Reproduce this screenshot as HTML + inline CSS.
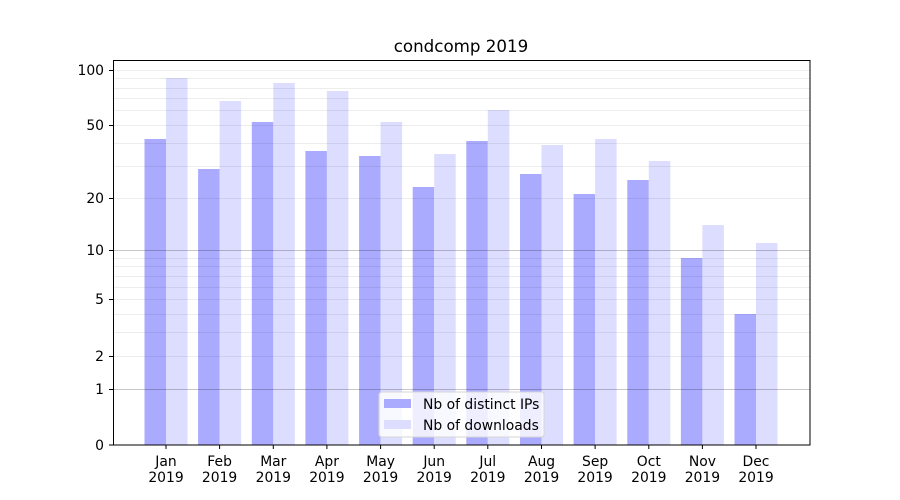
<!DOCTYPE html>
<html><head><style>body{margin:0;background:#fff}svg{display:block}text{font-family:"DejaVu Sans","Liberation Sans",sans-serif;font-size:13.9px;fill:#000}</style></head>
<body>
<svg width="900" height="500" xmlns="http://www.w3.org/2000/svg">
<rect width="900" height="500" fill="#fff"/>
<g fill="#aaaaff">
<rect x="144.5" y="139" width="21.5" height="306"/>
<rect x="198.1" y="169" width="21.5" height="276"/>
<rect x="251.8" y="122" width="21.5" height="323"/>
<rect x="305.4" y="151" width="21.5" height="294"/>
<rect x="359.1" y="156" width="21.5" height="289"/>
<rect x="412.7" y="187" width="21.5" height="258"/>
<rect x="466.3" y="141" width="21.5" height="304"/>
<rect x="520" y="174" width="21.5" height="271"/>
<rect x="573.6" y="194" width="21.5" height="251"/>
<rect x="627.3" y="180" width="21.5" height="265"/>
<rect x="680.9" y="258" width="21.5" height="187"/>
<rect x="734.5" y="314" width="21.5" height="131"/>
</g>
<g fill="#ddddff">
<rect x="166" y="78" width="21.5" height="367"/>
<rect x="219.6" y="101" width="21.5" height="344"/>
<rect x="273.3" y="83" width="21.5" height="362"/>
<rect x="326.9" y="91" width="21.5" height="354"/>
<rect x="380.6" y="122" width="21.5" height="323"/>
<rect x="434.2" y="154" width="21.5" height="291"/>
<rect x="487.8" y="110" width="21.5" height="335"/>
<rect x="541.5" y="145" width="21.5" height="300"/>
<rect x="595.1" y="139" width="21.5" height="306"/>
<rect x="648.8" y="161" width="21.5" height="284"/>
<rect x="702.4" y="225" width="21.5" height="220"/>
<rect x="756" y="243" width="21.5" height="202"/>
</g>
<g stroke="rgba(0,0,0,0.07)" stroke-width="1">
<line x1="113" x2="810" y1="258.5" y2="258.5"/><line x1="113" x2="810" y1="266.5" y2="266.5"/><line x1="113" x2="810" y1="276.5" y2="276.5"/><line x1="113" x2="810" y1="287.5" y2="287.5"/><line x1="113" x2="810" y1="299.5" y2="299.5"/><line x1="113" x2="810" y1="314.5" y2="314.5"/><line x1="113" x2="810" y1="332.5" y2="332.5"/><line x1="113" x2="810" y1="356.5" y2="356.5"/>
<line x1="113" x2="810" y1="198.5" y2="198.5"/><line x1="113" x2="810" y1="166.5" y2="166.5"/><line x1="113" x2="810" y1="143.5" y2="143.5"/><line x1="113" x2="810" y1="125.5" y2="125.5"/><line x1="113" x2="810" y1="110.5" y2="110.5"/><line x1="113" x2="810" y1="98.5" y2="98.5"/><line x1="113" x2="810" y1="88.5" y2="88.5"/><line x1="113" x2="810" y1="78.5" y2="78.5"/><line x1="113" x2="810" y1="70.5" y2="70.5"/>
</g>
<g stroke="rgba(0,0,0,0.22)" stroke-width="1">
<line x1="113" x2="810" y1="389.5" y2="389.5"/><line x1="113" x2="810" y1="250.5" y2="250.5"/>
</g>
<rect x="113.5" y="60.5" width="696.5" height="384.5" fill="none" stroke="#000" stroke-width="1"/>
<g stroke="#000">
<line x1="109" x2="113" y1="445" y2="445"/><line x1="109" x2="113" y1="389.5" y2="389.5"/><line x1="109" x2="113" y1="356.5" y2="356.5"/><line x1="109" x2="113" y1="299.5" y2="299.5"/><line x1="109" x2="113" y1="250.5" y2="250.5"/><line x1="109" x2="113" y1="198.5" y2="198.5"/><line x1="109" x2="113" y1="125.5" y2="125.5"/><line x1="109" x2="113" y1="70.5" y2="70.5"/>
</g>
<g text-anchor="end">
<text x="104" y="450">0</text><text x="104" y="394">1</text><text x="104" y="361">2</text><text x="104" y="304">5</text><text x="104" y="255">10</text><text x="104" y="203">20</text><text x="104" y="130">50</text><text x="104" y="75">100</text>
</g>
<g stroke="#000">
<line x1="166" x2="166" y1="445" y2="449"/><line x1="219.6" x2="219.6" y1="445" y2="449"/><line x1="273.3" x2="273.3" y1="445" y2="449"/><line x1="326.9" x2="326.9" y1="445" y2="449"/><line x1="380.6" x2="380.6" y1="445" y2="449"/><line x1="434.2" x2="434.2" y1="445" y2="449"/><line x1="487.8" x2="487.8" y1="445" y2="449"/><line x1="541.5" x2="541.5" y1="445" y2="449"/><line x1="595.1" x2="595.1" y1="445" y2="449"/><line x1="648.8" x2="648.8" y1="445" y2="449"/><line x1="702.4" x2="702.4" y1="445" y2="449"/><line x1="756" x2="756" y1="445" y2="449"/>
</g>
<g text-anchor="middle">
<text x="166" y="466">Jan</text><text x="166" y="482">2019</text>
<text x="219.6" y="466">Feb</text><text x="219.6" y="482">2019</text>
<text x="273.3" y="466">Mar</text><text x="273.3" y="482">2019</text>
<text x="326.9" y="466">Apr</text><text x="326.9" y="482">2019</text>
<text x="380.6" y="466">May</text><text x="380.6" y="482">2019</text>
<text x="434.2" y="466">Jun</text><text x="434.2" y="482">2019</text>
<text x="487.8" y="466">Jul</text><text x="487.8" y="482">2019</text>
<text x="541.5" y="466">Aug</text><text x="541.5" y="482">2019</text>
<text x="595.1" y="466">Sep</text><text x="595.1" y="482">2019</text>
<text x="648.8" y="466">Oct</text><text x="648.8" y="482">2019</text>
<text x="702.4" y="466">Nov</text><text x="702.4" y="482">2019</text>
<text x="756" y="466">Dec</text><text x="756" y="482">2019</text>
<text x="461" y="52" style="font-size:16.7px">condcomp 2019</text>
</g>
<rect x="379" y="392" width="165" height="45" rx="3" fill="rgba(255,255,255,0.8)" stroke="#d6d6d6"/>
<rect x="384" y="399" width="27" height="9" fill="#aaaaff"/>
<rect x="384" y="420" width="27" height="9" fill="#ddddff"/>
<text x="423" y="409">Nb of distinct IPs</text>
<text x="423" y="430">Nb of downloads</text>
</svg>
</body></html>
